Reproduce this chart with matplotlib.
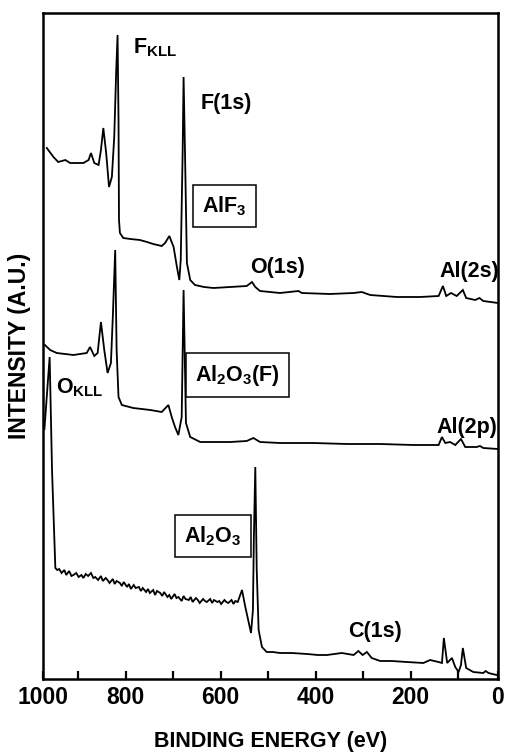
import matplotlib
matplotlib.use("Agg")
import matplotlib.pyplot as plt
from matplotlib.ticker import FixedLocator, FixedFormatter

plt.rcParams.update({
    "font.family": ["Liberation Sans", "DejaVu Sans"],
    "font.weight": "bold",
    "mathtext.fontset": "custom",
    "mathtext.rm": "Liberation Sans:bold",
    "mathtext.it": "Liberation Sans:bold",
    "mathtext.bf": "Liberation Sans:bold",
    "mathtext.sf": "Liberation Sans:bold",
})

# XPS survey spectra: binding energy (eV) vs. intensity (arbitrary units, stacked)
energy_alf3 = [966, 952, 942, 927, 917, 889, 878, 873, 866, 857, 852, 847, 841, 835,
               829, 824, 820, 817, 815, 814, 812, 805, 790, 770, 755, 742, 724, 717,
               708, 699, 692, 687, 684, 680, 678, 675, 671, 664, 654, 635, 615, 580,
               545, 534, 527, 517, 475, 436, 429, 370, 320, 303, 285, 229, 180, 141,
               132, 125, 115, 103, 90, 83, 64, 55, 47, 16]
intensity_alf3 = [531, 522, 517, 519, 516, 516, 519, 526, 516, 514, 529, 551, 526, 492,
                  502, 542, 606, 644, 559, 459, 446, 441, 440, 439, 437, 435, 433, 436,
                  443, 432, 412, 399, 419, 526, 602, 526, 416, 399, 394, 392, 391, 392,
                  393, 397, 392, 388, 386, 388, 386, 385, 386, 387, 384, 382, 382, 383,
                  393, 383, 386, 383, 389, 381, 379, 381, 378, 376]

energy_al2o3_f = [970, 959, 945, 910, 882, 875, 866, 859, 852, 845, 838, 831, 827, 822,
                  819, 815, 808, 784, 748, 724, 710, 703, 696, 689, 682, 678, 673, 664,
                  643, 580, 545, 531, 517, 475, 405, 334, 264, 194, 141, 134, 127, 117,
                  106, 94, 85, 61, 54, 47, 16]
intensity_al2o3_f = [334, 329, 326, 324, 326, 332, 323, 326, 357, 329, 306, 316, 362, 429,
                     329, 282, 274, 271, 269, 267, 274, 262, 252, 244, 262, 389, 256, 242,
                     237, 237, 238, 241, 237, 236, 236, 235, 235, 234, 234, 242, 236, 237,
                     234, 240, 232, 232, 233, 231, 230]

energy_al2o3 = [971, 960, 955, 948, 944, 940, 935, 929, 925, 919, 914, 910, 904, 899,
                893, 889, 884, 879, 873, 868, 864, 858, 852, 848, 842, 838, 834, 827,
                823, 819, 812, 808, 804, 797, 793, 789, 783, 779, 772, 768, 764, 757,
                753, 749, 742, 738, 734, 727, 723, 719, 712, 708, 704, 697, 693, 689,
                682, 678, 674, 667, 663, 659, 652, 648, 644, 637, 633, 629, 622, 618,
                614, 607, 603, 599, 592, 588, 584, 577, 573, 569, 564, 555, 548, 536,
                532, 530, 527, 524, 520, 513, 503, 490, 475, 450, 418, 395, 376, 345,
                320, 310, 301, 292, 282, 264, 240, 208, 173, 159, 141, 134, 130, 123,
                113, 106, 99, 94, 90, 83, 68, 47, 42, 36, 19, 16]
intensity_al2o3 = [250, 322, 209, 111, 109, 110, 106, 109, 104, 108, 103, 104, 106, 102,
                   104, 101, 105, 103, 106, 101, 102, 99, 103, 98, 101, 99, 96, 100,
                   95, 98, 96, 93, 97, 92, 95, 90, 94, 91, 92, 88, 91, 87,
                   90, 86, 89, 84, 88, 86, 83, 87, 82, 84, 80, 85, 81, 82,
                   78, 83, 80, 79, 82, 77, 81, 79, 76, 80, 78, 77, 80, 76,
                   79, 77, 78, 75, 79, 77, 76, 79, 75, 78, 77, 89, 72, 46,
                   69, 142, 212, 109, 49, 32, 27, 27, 26, 26, 25, 24, 24, 26,
                   24, 28, 24, 27, 21, 18, 18, 17, 16, 19, 17, 16, 41, 16,
                   21, 12, 7, 14, 31, 11, 7, 6, 8, 6, 4, 4]

tick_energies = [974, 800, 600, 400, 200, 16]
tick_labels = ["1000", "800", "600", "400", "200", "0"]
minor_tick_energies = [900, 700, 500, 300, 100]

fig = plt.figure(figsize=(5.05, 7.56), dpi=100)
ax = fig.add_axes([43 / 505, 1 - 679 / 756, 455 / 505, 666 / 756])

for e, i in [(energy_alf3, intensity_alf3),
             (energy_al2o3_f, intensity_al2o3_f),
             (energy_al2o3, intensity_al2o3)]:
    ax.plot(e, i, color="black", lw=1.3, solid_joinstyle="miter")

ax.set_xlim(974, 16)
ax.set_ylim(0, 666)

ax.xaxis.set_major_locator(FixedLocator(tick_energies))
ax.xaxis.set_major_formatter(FixedFormatter(tick_labels))
ax.xaxis.set_minor_locator(FixedLocator(minor_tick_energies))
ax.tick_params(axis="x", which="both", direction="in", length=6, width=1.6,
               top=False, labelsize=16.5, pad=5)
ax.set_yticks([])
for s in ax.spines.values():
    s.set_linewidth(1.8)

ax.set_xlabel("BINDING ENERGY (eV)", fontsize=15.5, fontweight="bold", labelpad=16)
ax.set_ylabel("INTENSITY (A.U.)", fontsize=16.5, fontweight="bold")
ax.yaxis.set_label_coords(-0.026, 0.5)

txt = dict(fontsize=15.5, fontweight="bold", color="black")
box = dict(boxstyle="square,pad=0.42", fc="white", ec="black", lw=1.1)

ax.text(784, 631, r"F$_{\mathrm{KLL}}$", ha="left", va="center", **txt)
ax.text(643, 576, "F(1s)", ha="left", va="center", **txt)
ax.text(592, 473, r"AlF$_3$", ha="center", va="center", bbox=box, **txt)
ax.text(538, 412, "O(1s)", ha="left", va="center", **txt)
ax.text(140, 407, "Al(2s)", ha="left", va="center", **txt)
ax.text(565, 304, r"Al$_2$O$_3$(F)", ha="center", va="center", bbox=box, **txt)
ax.text(946, 291, r"O$_{\mathrm{KLL}}$", ha="left", va="center", **txt)
ax.text(146, 251, "Al(2p)", ha="left", va="center", **txt)
ax.text(616, 143, r"Al$_2$O$_3$", ha="center", va="center", bbox=box, **txt)
ax.text(332, 47, "C(1s)", ha="left", va="center", **txt)

fig.savefig("out.png", dpi=100)
